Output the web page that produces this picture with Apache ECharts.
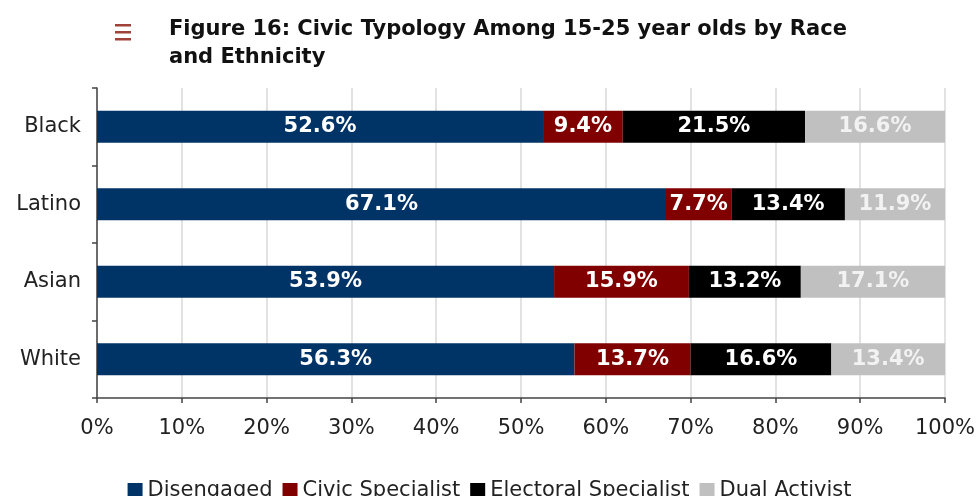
<!DOCTYPE html>
<html>
<head>
<meta charset="utf-8">
<script src="https://cdn.jsdelivr.net/npm/echarts@6/dist/echarts.min.js"></script>
<style>
  html, body { margin: 0; padding: 0; background: #fff; }
  #chart { width: 979px; height: 496px; }
</style>
</head>
<body>
<div id="chart"></div>
<script>
// 資料
const categories = ['Black', 'Latino', 'Asian', 'White']
const seriesNames = ['Disengaged', 'Civic Specialist', 'Electoral Specialist', 'Dual Activist']
const disengaged = [52.6, 67.1, 53.9, 56.3]
const civicSpecialist = [9.4, 7.7, 15.9, 13.7]
const electoralSpecialist = [21.5, 13.4, 13.2, 16.6]
const dualActivist = [16.6, 11.9, 17.1, 13.4]
const xTicks = [0, 10, 20, 30, 40, 50, 60, 70, 80, 90, 100]

const colors = ['#003366', '#800000', '#000000', '#C0C0C0']
const labelColors = ['#ffffff', '#ffffff', '#ffffff', '#f2f2f2']
const values = [disengaged, civicSpecialist, electoralSpecialist, dualActivist]

const font = 'DejaVu Sans, Verdana, sans-serif'

const chart = echarts.init(document.getElementById('chart'))

const series = seriesNames.map((name, i) => ({
  name: name,
  type: 'bar',
  stack: 'total',
  barCategoryGap: '59%',
  itemStyle: { color: colors[i] },
  label: {
    show: true,
    position: 'inside',
    color: labelColors[i],
    fontFamily: font,
    fontWeight: 'bold',
    fontSize: 21,
    formatter: (p) => p.value.toFixed(1) + '%'
  },
  emphasis: { disabled: true },
  data: values[i]
}))

// 標題左側的選單圖示（三條橫線）
const menuIcon = [25, 32, 39].map((y) => ({
  type: 'rect',
  shape: { x: 115, y: y - 1, width: 16, height: 2.5 },
  style: { fill: '#a0413a' }
}))

chart.setOption({
  animation: false,
  textStyle: { fontFamily: font },
  graphic: menuIcon,
  title: {
    text: 'Figure 16: Civic Typology Among 15-25 year olds by Race\nand Ethnicity',
    left: 164,
    top: 11,
    textStyle: {
      fontFamily: font,
      fontWeight: 'bold',
      fontSize: 21,
      lineHeight: 28,
      color: '#111'
    }
  },
  legend: {
    data: seriesNames,
    left: 'center',
    top: 475,
    icon: 'rect',
    itemWidth: 15,
    itemHeight: 15,
    itemGap: 10,
    textStyle: { fontFamily: font, fontSize: 21, color: '#222' }
  },
  grid: { left: 97, right: 34, top: 88, bottom: 98 },
  xAxis: {
    type: 'value',
    min: 0,
    max: 100,
    interval: 10,
    axisLine: { show: true, lineStyle: { color: '#444', width: 1.5 } },
    axisTick: { show: true, length: 5, lineStyle: { color: '#444', width: 1.5 } },
    splitLine: { show: true, lineStyle: { color: '#d9d9d9', width: 1.5 } },
    axisLabel: {
      margin: 20,
      fontSize: 21,
      color: '#222',
      fontFamily: font,
      formatter: (v) => (xTicks.includes(v) ? v + '%' : '')
    }
  },
  yAxis: {
    type: 'category',
    inverse: true,
    data: categories,
    axisLine: { show: true, lineStyle: { color: '#444', width: 1.5 } },
    axisTick: { show: true, length: 5, lineStyle: { color: '#444', width: 1.5 } },
    axisLabel: { margin: 16, fontSize: 21, color: '#222', fontFamily: font }
  },
  series: series
})
</script>
</body>
</html>
